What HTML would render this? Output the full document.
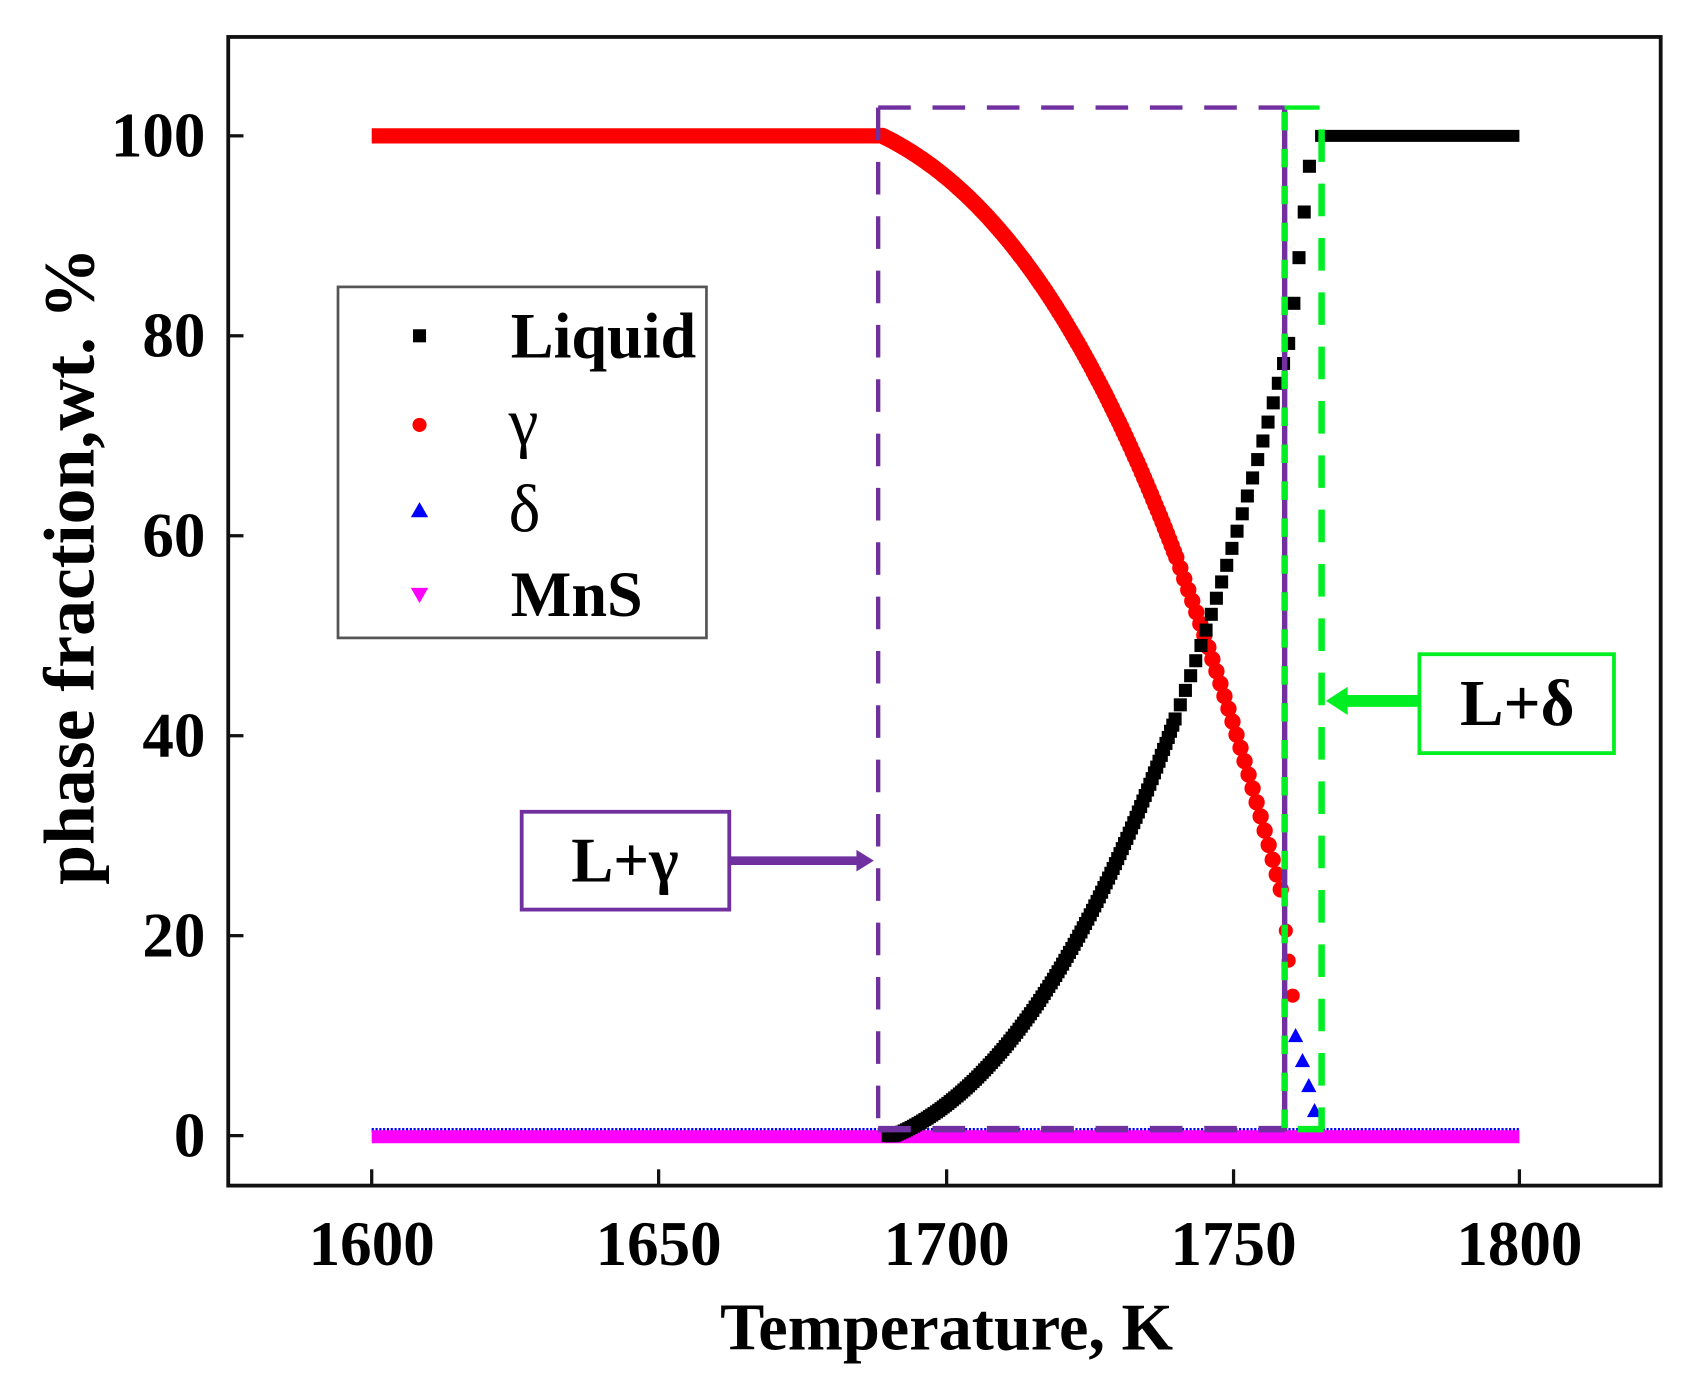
<!DOCTYPE html>
<html><head><meta charset="utf-8"><style>
html,body{margin:0;padding:0;background:#fff;}
svg{display:block;}
text{font-family:"Liberation Serif",serif;font-weight:bold;fill:#000;}
</style></head><body>
<svg id="s" width="1702" height="1391" viewBox="2 1 1566 1280" preserveAspectRatio="none" xmlns="http://www.w3.org/2000/svg">
<rect x="0" y="0" width="1570" height="1285" fill="#fff"/>
<rect x="212" y="35" width="1318" height="1057" fill="none" stroke="#111" stroke-width="3.5"/>
<g stroke="#111" stroke-width="3">
<line x1="344" y1="1092" x2="344" y2="1077"/><line x1="608" y1="1092" x2="608" y2="1077"/>
<line x1="873" y1="1092" x2="873" y2="1077"/><line x1="1137" y1="1092" x2="1137" y2="1077"/>
<line x1="1400" y1="1092" x2="1400" y2="1077"/>
<line x1="212" y1="126" x2="226" y2="126"/><line x1="212" y1="310" x2="226" y2="310"/>
<line x1="212" y1="494" x2="226" y2="494"/><line x1="212" y1="678" x2="226" y2="678"/>
<line x1="212" y1="862" x2="226" y2="862"/><line x1="212" y1="1046" x2="226" y2="1046"/>
</g>
<g font-size="58" text-anchor="middle">
<text x="344" y="1165">1600</text><text x="608" y="1165">1650</text><text x="873" y="1165">1700</text>
<text x="1137" y="1165">1750</text><text x="1400" y="1165">1800</text>
</g>
<g font-size="58" text-anchor="end">
<text x="191" y="145">100</text><text x="191" y="329">80</text><text x="191" y="513">60</text>
<text x="191" y="697">40</text><text x="191" y="881">20</text><text x="191" y="1065">0</text>
</g>
<text x="873" y="1243" font-size="61" text-anchor="middle">Temperature, K</text>
<text transform="translate(88,522) rotate(-90)" font-size="66" text-anchor="middle">phase fraction,wt. %</text>

<line x1="344" y1="1041" x2="1400" y2="1041" stroke="#0000ff" stroke-width="4" stroke-dasharray="2 1.5"/>
<line x1="344" y1="1047" x2="1400" y2="1047" stroke="#ff00ff" stroke-width="12"/>
<line x1="344" y1="126" x2="812" y2="126" stroke="#ff0000" stroke-width="14"/>
<line x1="1212" y1="126" x2="1400" y2="126" stroke="#000" stroke-width="11"/>
<g id="pts"></g>

<g stroke="#7030a0" fill="none">
<line x1="810" y1="100" x2="1184" y2="100" stroke-width="4" stroke-dasharray="30 20"/>
<line x1="810" y1="100" x2="810" y2="1042" stroke-width="4" stroke-dasharray="30 20"/>
<line x1="810" y1="1040" x2="1184" y2="1040" stroke-width="6" stroke-dasharray="30 20"/>
<line x1="1184" y1="100" x2="1184" y2="1042" stroke-width="5"/>
</g>
<g stroke="#00ee22" fill="none" stroke-width="6">
<line x1="1184" y1="100" x2="1216" y2="100" stroke-width="4"/>
<line x1="1184" y1="104" x2="1184" y2="1042" stroke-dasharray="17 17"/>
<line x1="1218" y1="120" x2="1218" y2="1040" stroke-dasharray="30 20"/>
<line x1="1196" y1="1040" x2="1220" y2="1040"/>
</g>
<rect x="482" y="748" width="191" height="90" fill="#fff" stroke="#7030a0" stroke-width="3.5"/>
<text x="577" y="812" font-size="58" text-anchor="middle">L+γ</text>
<line x1="673" y1="793" x2="792" y2="793" stroke="#7030a0" stroke-width="8"/>
<polygon points="806,793 790,783 790,803" fill="#7030a0"/>
<rect x="1308" y="603" width="179" height="91" fill="#fff" stroke="#00ee22" stroke-width="3.5"/>
<text x="1398" y="668" font-size="60" text-anchor="middle">L+δ</text>
<line x1="1308" y1="646" x2="1238" y2="646" stroke="#00ee22" stroke-width="11"/>
<polygon points="1222,646 1242,633 1242,659" fill="#00ee22"/>

<rect x="313" y="265" width="339" height="323" fill="#fff" stroke="#555" stroke-width="2.5"/>
<rect x="382" y="304" width="12" height="12" fill="#000"/>
<circle cx="388" cy="392" r="6.5" fill="#f00"/>
<polygon points="388,463 380,477 396,477" fill="#00f"/>
<polygon points="380,542 396,542 388,556" fill="#f0f"/>
<text x="472" y="330" font-size="59">Liquid</text>
<text x="470" y="410" font-size="62" style="font-weight:normal">γ</text>
<text x="470" y="490" font-size="62" style="font-weight:normal">δ</text>
<text x="472" y="568" font-size="59">MnS</text>
</svg>
<script>
(function(){
var X=function(T){return 344+(T-1600)*5.28;},Y=function(v){return 1046-9.2*v;};
function gam(T){var d=T-1689;if(d<=0)return 100;return 100-(0.28*d+0.0078*d*d+0.000055*d*d*d);}
function lq(d){return 0.24*d+0.0105*d*d+0.00004*d*d*d;}
function liq(T){var d=T-1691;if(d<=0)return 0;if(T<=1760)return lq(d);var l0=lq(69);return Math.min(100,l0+(100-l0)*(T-1760)/4);}
var g=document.getElementById('pts'),h='';
for(var T=1689;T<=1758.5;T+=(T<1740?0.4:0.7)){var v=gam(T);h+='<circle cx="'+X(T).toFixed(1)+'" cy="'+Y(v).toFixed(1)+'" r="7.5" fill="#f00"/>';}
[[1759.3,20.5],[1759.8,17.5],[1760.5,14]].forEach(function(p){h+='<circle cx="'+X(p[0]).toFixed(1)+'" cy="'+Y(p[1]).toFixed(1)+'" r="6.5" fill="#f00"/>';});
for(var T=1690;T<=1764.01;T+=(T<1740?0.4:0.9)){var v=liq(T);h+='<rect x="'+(X(T)-6).toFixed(1)+'" y="'+(Y(v)-6).toFixed(1)+'" width="12" height="12" fill="#000"/>';}
var d=[[1761,10],[1762.2,7.5],[1763.3,5],[1764.3,2.5]];
d.forEach(function(p){var x=X(p[0]),y=Y(p[1]);h+='<polygon points="'+x+','+(y-7)+' '+(x-7)+','+(y+6)+' '+(x+7)+','+(y+6)+'" fill="#00f"/>';});
g.innerHTML=h;
})();
</script>
</body></html>
